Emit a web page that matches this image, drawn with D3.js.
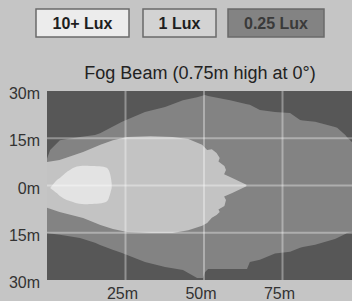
<!DOCTYPE html>
<html>
<head>
<meta charset="utf-8">
<script src="https://cdn.jsdelivr.net/npm/d3@7"></script>
<style>
body { margin: 0; background: #c5c5c5; }
svg { display: block; font-family: "Liberation Sans", Arial, sans-serif; }
</style>
</head>
<body>
<svg id="chart"></svg>
<script>
// values: [distance m, lateral left m, lateral right m]
const legendLabels = ["10+ Lux", "1 Lux", "0.25 Lux"];
const chartTitle = "Fog Beam (0.75m high at 0°)";
const xTicks = [25, 50, 75];
const xTickLabels = ["25m", "50m", "75m"];
const yTicks = [30, 15, 0, -15, -30];
const yTickLabels = ["30m", "15m", "0m", "15m", "30m"];

const quarterLux = [
    [0, 8.5, -15.1], [1, 11.3, -15.2], [4.1, 14.4, -15.6], [10.5, 15.4, -16.7],
    [15.3, 16, -18.2], [16.9, 16.6, -18.9], [20.7, 18.6, -20.3], [23.9, 20.2, -21.4],
    [31.2, 23.3, -24.3], [37.6, 24.9, -25.9], [43.3, 27.1, -26.8], [47.8, 28, -29.4],
    [49.7, 28.6, -29.4], [50.3, 28.7, -27.5], [51.3, 28.4, -26.5], [58.3, 27.1, -26.5],
    [63.7, 25.8, -26.5], [64.6, 25.6, -24.3], [67.8, 24, -23.6], [72.6, 23.3, -21.6],
    [77.4, 23, -21], [80.6, 20.8, -19.8], [81.5, 20.6, -19.5], [85.4, 20.2, -18.8],
    [91.7, 18.6, -17], [92.4, 18.3, -16.7], [95, 16, -15.4], [95.5, 15.4, -15.1],
    [97.1, 13.8, -14.8], [100, 12.9, -14.4]
];

const oneLux = [
    [0, 7.5, -7.1], [4, 8.1, -8.4], [11.5, 10.6, -10.3], [17, 12.9, -12.5],
    [21, 14.4, -13.8], [25.5, 15.4, -14.8], [33, 15.6, -15.1], [40, 15.4, -15.1],
    [45, 14.8, -14.2], [49.4, 12.9, -12.8], [51, 11.3, -11.9], [52.5, 11.5, -10.2],
    [54, 10.3, -9.4], [55, 8.7, -8.4], [54.6, 7.6, -7.6], [56.5, 6.2, -6.5],
    [57, 4.9, -4.6], [56.4, 3.6, -3.5], [59, 2.4, -2.4], [63.5, 0.2, -0.2]
];

const tenLux = [
    [1, -0.8, -0.8], [3.1, 1.7, -2.4], [4.1, 2.4, -3.3], [6.3, 4.3, -4.6],
    [7.3, 4.9, -4.9], [9.5, 6, -5.6], [13.7, 6.2, -5.9], [19, 5.6, -5.1],
    [20, 4, -3], [20.6, 0.8, -0.8]
];

class BeamChart {

    constructor( config ) {
        this.config = {
            parent: config.parent,
            width: config.width || 352,
            height: config.height || 301,
            plot: config.plot || {left: 47, right: 361, top: 91, bottom: 280},
        }
        this.init();
    }

    init() {
        let self = this;
        const p = self.config.plot;

        self.svg = d3.select( self.config.parent )
            .attr('width', self.config.width)
            .attr('height', self.config.height);

        self.svg.append('rect')
            .attr('width', self.config.width)
            .attr('height', self.config.height)
            .attr('fill', '#c5c5c5');

        self.xscale = d3.scaleLinear()
            .domain( [0, 100] )
            .range( [p.left, p.right] );

        self.yscale = d3.scaleLinear()
            .domain( [-30, 30] )
            .range( [p.bottom, p.top] );

        self.area = d3.area()
            .x( d => self.xscale(d[0]) )
            .y0( d => self.yscale(d[2]) )
            .y1( d => self.yscale(d[1]) );

        self.svg.append('clipPath')
            .attr('id', 'plot-clip')
            .append('rect')
            .attr('x', p.left)
            .attr('y', p.top)
            .attr('width', p.right - p.left)
            .attr('height', p.bottom - p.top);

        self.chart = self.svg.append('g')
            .attr('clip-path', 'url(#plot-clip)');
    }

    render() {
        let self = this;
        const p = self.config.plot;

        // dark background of the plot
        self.chart.append('rect')
            .attr('x', p.left)
            .attr('y', p.top)
            .attr('width', p.right - p.left)
            .attr('height', p.bottom - p.top)
            .attr('fill', '#575757');

        self.chart.append('path')
            .datum(quarterLux)
            .attr('d', self.area)
            .attr('fill', '#838383');

        self.chart.append('path')
            .datum(oneLux)
            .attr('d', self.area)
            .attr('fill', '#c3c3c3');

        self.chart.append('path')
            .datum(tenLux)
            .attr('d', self.area.curve(d3.curveCatmullRom))
            .attr('fill', '#e3e3e3');

        // grid
        self.chart.selectAll('.vgrid')
            .data(xTicks)
            .join('line')
            .attr('x1', d => self.xscale(d))
            .attr('x2', d => self.xscale(d))
            .attr('y1', p.top)
            .attr('y2', p.bottom)
            .attr('stroke', '#ffffff')
            .attr('stroke-opacity', 0.35)
            .attr('stroke-width', 2);

        self.chart.selectAll('.hgrid')
            .data(yTicks.slice(1, -1))
            .join('line')
            .attr('x1', p.left)
            .attr('x2', p.right)
            .attr('y1', d => self.yscale(d))
            .attr('y2', d => self.yscale(d))
            .attr('stroke', '#ffffff')
            .attr('stroke-opacity', 0.35)
            .attr('stroke-width', 2);

        // axis labels
        self.svg.selectAll('.xlabel')
            .data(xTicks)
            .join('text')
            .attr('x', d => self.xscale(d) - 3)
            .attr('y', 299)
            .attr('text-anchor', 'middle')
            .attr('font-size', '16px')
            .attr('fill', '#333')
            .text((d, i) => xTickLabels[i]);

        self.svg.selectAll('.ylabel')
            .data(yTicks)
            .join('text')
            .attr('x', 40)
            .attr('y', d => self.yscale(d) + 8)
            .attr('text-anchor', 'end')
            .attr('font-size', '16px')
            .attr('fill', '#333')
            .text((d, i) => yTickLabels[i]);

        self.svg.append('text')
            .attr('x', 200)
            .attr('y', 79)
            .attr('text-anchor', 'middle')
            .attr('font-size', '18px')
            .attr('fill', '#222')
            .text(chartTitle);

        // legend
        const boxX = [36, 143, 228];
        const boxW = [93, 73, 96];
        const boxFill = ['#ececec', '#d3d3d3', '#838383'];
        const textFill = ['#1e1e1e', '#1e1e1e', '#3a3a3a'];

        const legend = self.svg.selectAll('.legend')
            .data(legendLabels)
            .join('g')
            .attr('transform', (d, i) => `translate(${boxX[i]}, 9)`);

        legend.append('rect')
            .attr('width', (d, i) => boxW[i])
            .attr('height', 28)
            .attr('fill', (d, i) => boxFill[i])
            .attr('stroke', '#6a6a6a')
            .attr('stroke-width', 1.5);

        legend.append('text')
            .attr('x', (d, i) => boxW[i] / 2)
            .attr('y', 20)
            .attr('text-anchor', 'middle')
            .attr('font-size', '16px')
            .attr('font-weight', 'bold')
            .attr('fill', (d, i) => textFill[i])
            .text(d => d);
    }
}

const chart = new BeamChart({ parent: '#chart', width: 352, height: 301 });
chart.render();
</script>
</body>
</html>
